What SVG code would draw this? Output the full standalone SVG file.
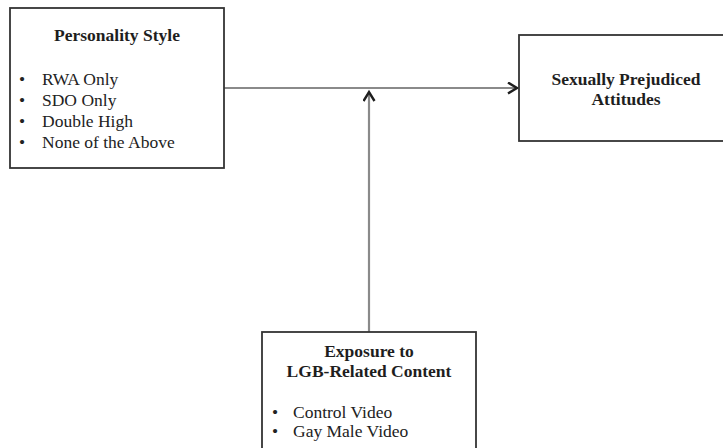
<svg xmlns="http://www.w3.org/2000/svg" width="723" height="448" viewBox="0 0 723 448">
  <style>
    .box { fill: #ffffff; stroke: #333333; stroke-width: 1.8; }
    .title { font-family: "Liberation Serif", "Times New Roman", serif; font-size: 17.5px; font-weight: bold; fill: #1e1e1e; text-anchor: middle; }
    .item { font-family: "Liberation Serif", "Times New Roman", serif; font-size: 17.5px; fill: #222222; }
    .link { stroke: #8a8a8a; stroke-width: 2.2; fill: none; }
  </style>
  <defs>
    <marker id="chevron" markerUnits="userSpaceOnUse" markerWidth="14" markerHeight="14" refX="10" refY="6" orient="auto">
      <path d="M1,0.5 L10,6 L1,11.5" fill="none" stroke="#1e1e1e" stroke-width="2.4"/>
    </marker>
  </defs>
  <rect width="723" height="448" fill="#ffffff"/>

  <g id="connectors">
    <line class="link" x1="224" y1="88" x2="517" y2="88" marker-end="url(#chevron)"/>
    <line class="link" x1="369" y1="332" x2="369" y2="92" marker-end="url(#chevron)"/>
  </g>

  <g id="personality-style">
    <rect class="box" x="10" y="8" width="214" height="160"/>
    <text class="title" x="117" y="41">Personality Style</text>
    <text class="item" x="19" y="85">•</text>
    <text class="item" x="42" y="85">RWA Only</text>
    <text class="item" x="19" y="106">•</text>
    <text class="item" x="42" y="106">SDO Only</text>
    <text class="item" x="19" y="127">•</text>
    <text class="item" x="42" y="127">Double High</text>
    <text class="item" x="19" y="148">•</text>
    <text class="item" x="42" y="148">None of the Above</text>
  </g>

  <g id="sexually-prejudiced-attitudes">
    <rect class="box" x="519" y="35" width="214" height="106"/>
    <text class="title" x="626" y="85">Sexually Prejudiced</text>
    <text class="title" x="626" y="105">Attitudes</text>
  </g>

  <g id="lgb-content-exposure">
    <rect class="box" x="262" y="332" width="214" height="130"/>
    <text class="title" x="369" y="357">Exposure to</text>
    <text class="title" x="369" y="377">LGB-Related Content</text>
    <text class="item" x="272" y="417.5">•</text>
    <text class="item" x="293" y="417.5">Control Video</text>
    <text class="item" x="272" y="437">•</text>
    <text class="item" x="293" y="437">Gay Male Video</text>
  </g>
</svg>
